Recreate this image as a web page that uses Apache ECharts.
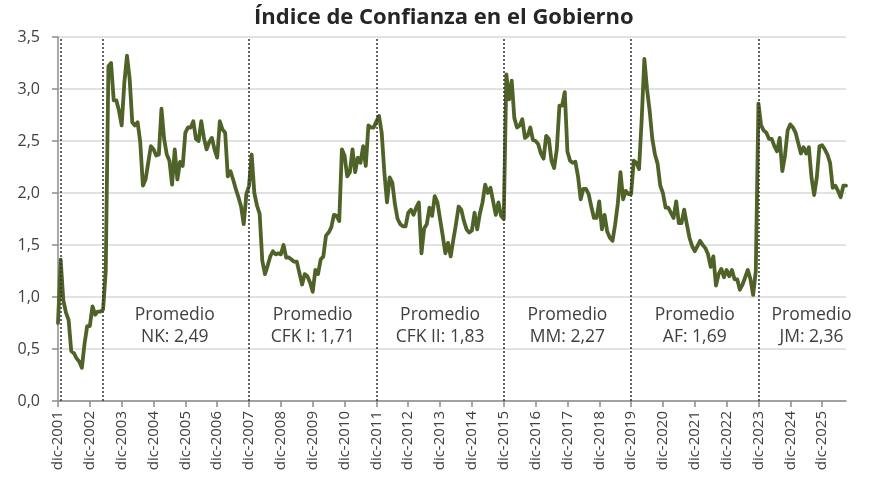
<!DOCTYPE html>
<html>
<head>
<meta charset="utf-8">
<script src="https://cdn.jsdelivr.net/npm/echarts@6/dist/echarts.min.js"></script>
<style>
  html, body { margin: 0; padding: 0; background: #fff; }
  #Canvas1 { width: 870px; height: 490px; }
</style>
</head>
<body>
<div id="Canvas1"></div>
<script>
// valores mensuales del indice, desde dic-2001
var icg = [
  0.75, 1.36, 0.97, 0.85, 0.78, 0.48, 0.46, 0.41, 0.38, 0.32, 0.55, 0.72,
  0.72, 0.91, 0.83, 0.86, 0.86, 0.88, 1.25, 3.22, 3.25, 2.89, 2.89, 2.79,
  2.65, 3.06, 3.32, 3.10, 2.68, 2.65, 2.68, 2.49, 2.07, 2.13, 2.29, 2.45,
  2.42, 2.36, 2.37, 2.81, 2.52, 2.37, 2.31, 2.08, 2.42, 2.13, 2.30, 2.26,
  2.58, 2.63, 2.63, 2.69, 2.52, 2.50, 2.69, 2.53, 2.42, 2.49, 2.53, 2.42,
  2.34, 2.69, 2.61, 2.58, 2.16, 2.21, 2.13, 2.04, 1.96, 1.87, 1.70, 1.99,
  2.07, 2.37, 2.00, 1.88, 1.80, 1.35, 1.22, 1.30, 1.39, 1.44, 1.41, 1.42,
  1.41, 1.50, 1.38, 1.38, 1.36, 1.34, 1.34, 1.23, 1.12, 1.22, 1.20, 1.14,
  1.05, 1.26, 1.22, 1.36, 1.39, 1.59, 1.62, 1.67, 1.79, 1.78, 1.73, 2.42,
  2.36, 2.16, 2.20, 2.42, 2.20, 2.34, 2.29, 2.45, 2.26, 2.65, 2.63, 2.63,
  2.69, 2.74, 2.58, 2.20, 1.91, 2.15, 2.10, 1.89, 1.75, 1.70, 1.68, 1.68,
  1.81, 1.84, 1.79, 1.86, 1.91, 1.42, 1.66, 1.70, 1.86, 1.78, 1.97, 1.91,
  1.75, 1.59, 1.42, 1.52, 1.39, 1.55, 1.70, 1.87, 1.84, 1.73, 1.65, 1.62,
  1.64, 1.81, 1.65, 1.80, 1.91, 2.08, 2.00, 2.05, 1.92, 1.79, 1.91, 1.78,
  1.75, 3.14, 2.90, 3.08, 2.72, 2.63, 2.65, 2.71, 2.53, 2.55, 2.63, 2.51,
  2.50, 2.47, 2.38, 2.33, 2.55, 2.52, 2.31, 2.24, 2.42, 2.84, 2.84, 2.97,
  2.40, 2.31, 2.29, 2.30, 2.16, 1.94, 2.04, 2.04, 1.99, 1.87, 1.76, 1.76,
  1.92, 1.65, 1.79, 1.63, 1.57, 1.54, 1.70, 1.90, 2.20, 1.94, 2.02, 1.99,
  1.99, 2.31, 2.29, 2.23, 2.71, 3.29, 3.00, 2.79, 2.52, 2.37, 2.28, 2.07,
  2.00, 1.86, 1.86, 1.81, 1.76, 1.92, 1.71, 1.71, 1.84, 1.70, 1.57, 1.49,
  1.44, 1.49, 1.54, 1.50, 1.47, 1.41, 1.29, 1.39, 1.11, 1.22, 1.27, 1.19,
  1.26, 1.20, 1.26, 1.17, 1.17, 1.07, 1.12, 1.19, 1.26, 1.17, 1.02, 1.25,
  2.86, 2.65, 2.60, 2.58, 2.52, 2.52, 2.45, 2.40, 2.53, 2.21, 2.36, 2.60,
  2.66, 2.63, 2.58, 2.48, 2.38, 2.44, 2.38, 2.44, 2.15, 1.98, 2.15, 2.45,
  2.46, 2.42, 2.37, 2.29, 2.05, 2.07, 2.02, 1.96, 2.07, 2.07
];
var meses = ['ene', 'feb', 'mar', 'abr', 'may', 'jun', 'jul', 'ago', 'sep', 'oct', 'nov', 'dic'];
var anioInicio = 2001;

// cambios de gobierno (indice del mes)
var cortes = [1, 17, 72, 120, 168, 216, 264];

var promedioTextos = ['NK: 2,49', 'CFK I: 1,71', 'CFK II: 1,83', 'MM: 2,27', 'AF: 1,69', 'JM: 2,36'];
var promedioMes = [44, 96, 144, 192, 240, 284];

var categorias = [];
for (var i = 0; i < icg.length; i++) {
  var k = 11 + i;
  categorias.push(meses[k % 12] + '-' + (anioInicio + Math.floor(k / 12)));
}

function esDic(idx) { return idx % 12 === 0; }

var myChart1 = echarts.init(document.getElementById('Canvas1'));
var option1 = {
  animation: false,
  title: {
    text: 'Índice de Confianza en el Gobierno',
    left: 249,
    top: 2,
    textStyle: { fontFamily: 'Open Sans', fontWeight: 'bold', fontSize: 22, color: '#262626' }
  },
  grid: { left: 58, right: 24, top: 37, bottom: 89, containLabel: false },
  xAxis: {
    type: 'category',
    data: categorias,
    boundaryGap: false,
    axisLine: { lineStyle: { color: '#8c8c8c', width: 1.5 } },
    axisTick: { show: true, interval: function (idx) { return esDic(idx); }, length: 6, lineStyle: { color: '#8c8c8c', width: 1.5 } },
    axisLabel: {
      interval: function (idx) { return esDic(idx); },
      rotate: 90,
      margin: 10,
      fontFamily: 'Open Sans',
      fontSize: 15,
      color: '#404040'
    },
    splitLine: { show: false }
  },
  yAxis: {
    type: 'value',
    min: 0,
    max: 3.5,
    interval: 0.5,
    axisLine: { show: true, lineStyle: { color: '#8c8c8c', width: 1.5 } },
    axisTick: { show: true, length: 6, lineStyle: { color: '#8c8c8c', width: 1.5 } },
    axisLabel: {
      margin: 18,
      fontFamily: 'Open Sans',
      fontSize: 16,
      color: '#404040',
      formatter: function (v) { return v.toFixed(1).replace('.', ','); }
    },
    splitLine: { lineStyle: { color: '#d9d9d9', width: 1.5 } }
  },
  series: [
    {
      name: 'ICG',
      type: 'line',
      data: icg,
      symbol: 'none',
      z: 3,
      lineStyle: { color: '#4f6228', width: 3.8, join: 'round', cap: 'round' },
      markLine: {
        silent: true,
        symbol: 'none',
        label: { show: false },
        lineStyle: { color: '#333333', width: 1.5, type: [2, 2] },
        data: cortes.map(function (c) { return { xAxis: c }; })
      },
      markPoint: {
        silent: true,
        symbolSize: 0,
        label: {
          show: true,
          position: 'inside',
          fontFamily: 'Open Sans',
          fontSize: 17.5,
          lineHeight: 22,
          color: '#404040'
        },
        data: promedioTextos.map(function (t, j) {
          return { coord: [promedioMes[j], 0.72], value: 'Promedio\n' + t, label: { formatter: 'Promedio\n' + t } };
        })
      }
    }
  ]
};
myChart1.setOption(option1);
</script>
</body>
</html>
